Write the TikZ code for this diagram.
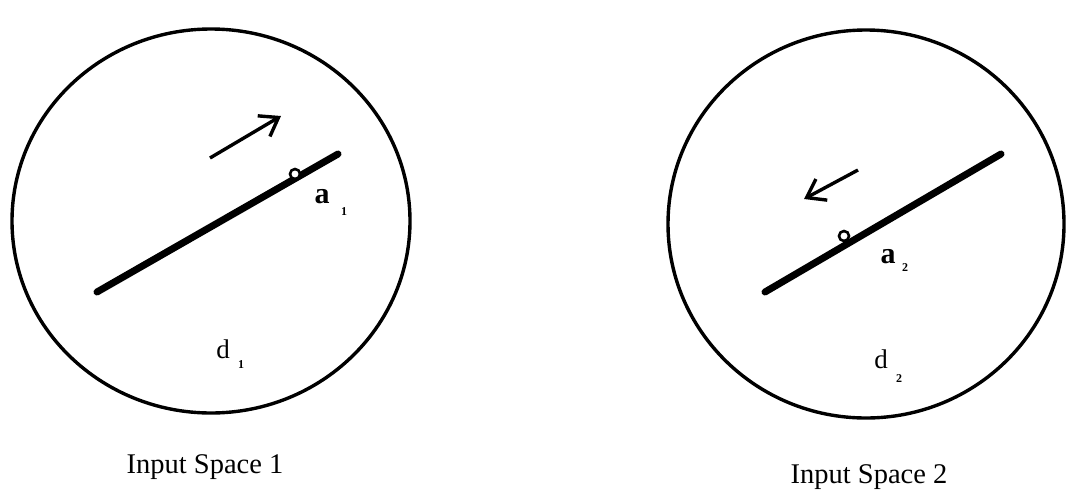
\documentclass[tikz,border=0pt]{standalone}
\usepackage{fontspec}
\setmainfont{Liberation Serif}
\usepackage{tikz}
\usetikzlibrary{arrows.meta, calc}

\begin{document}
\begin{tikzpicture}[
    x=1pt, y=-1pt,
    font=\fontsize{28.5}{32}\selectfont,
    space/.style={line width=3.4pt},
    axis/.style={line width=7pt, line cap=round},
    move/.style={line width=3.4pt, -{Straight Barb[length=17pt, width=24pt, line width=3.4pt]}},
    point/.style={circle, draw, line width=2.6pt, fill=white, inner sep=0pt, minimum size=10pt},
    sub/.style={font=\fontsize{12}{13}\selectfont\bfseries, inner sep=0pt},
    lbl/.style={inner sep=0pt},
    caption/.style={anchor=base, inner sep=0pt}
]
\useasboundingbox (0,0) rectangle (1067,490);

% input space 1
\draw[space] (211,221) ellipse [x radius=199, y radius=192];
\coordinate (lo1) at (97,292);
\coordinate (hi1) at (338,154);
\draw[axis] (lo1) -- (hi1);
\node[point] (p1) at (295,174) {};
\coordinate (m1s) at (210,158);
\coordinate (m1e) at (281,116);
\draw[move] (m1s) -- (m1e);
\node[lbl, font=\fontsize{30}{34}\selectfont\bfseries] (a1) at (322,197) {a};
\node[sub] (a1s) at (344,212) {1};
\node[lbl, font=\fontsize{27}{30}\selectfont] (d1) at (223,349) {d};
\node[sub] (d1s) at (241,365) {1};
\node[caption] (in1) at (205,473) {Input Space 1};

% input space 2
\draw[space] (866,224) ellipse [x radius=198, y radius=194];
\coordinate (lo2) at (765,292);
\coordinate (hi2) at (1001,154);
\draw[axis] (lo2) -- (hi2);
\node[point] (p2) at (844,236) {};
\coordinate (m2s) at (858,170);
\coordinate (m2e) at (804,199);
\draw[move] (m2s) -- (m2e);
\node[lbl, font=\fontsize{30}{34}\selectfont\bfseries] (a2) at (888,257) {a};
\node[sub] (a2s) at (905,268) {2};
\node[lbl, font=\fontsize{27}{30}\selectfont] (d2) at (881,359) {d};
\node[sub] (d2s) at (899,379) {2};
\node[caption] (in2) at (869,483) {Input Space 2};

\end{tikzpicture}
\end{document}
